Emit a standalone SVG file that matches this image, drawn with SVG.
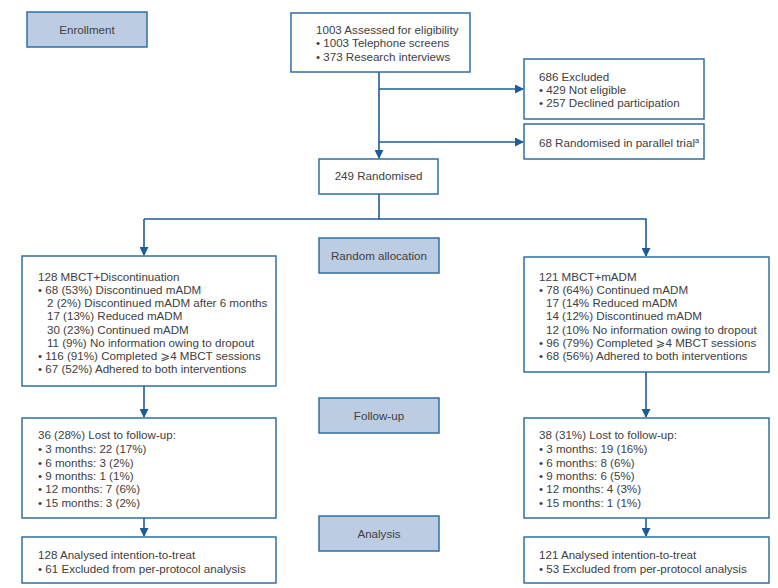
<svg xmlns="http://www.w3.org/2000/svg" width="778" height="588" viewBox="0 0 778 588">
<style>
.box{fill:#ffffff;stroke:#2f6fa3;stroke-width:1.5}
.lbl{fill:#bccde3;stroke:#2f6fa3;stroke-width:1.5}
.t{font-family:"Liberation Sans","DejaVu Sans",sans-serif;font-size:11.6px;fill:#404040}
.c{text-anchor:middle}
.ln{fill:none;stroke:#1d5d97;stroke-width:1.6}
</style>
<defs>
<marker id="ah" markerWidth="9" markerHeight="9" refX="8" refY="4.5" orient="auto" markerUnits="userSpaceOnUse">
<path d="M0,0 L9,4.5 L0,9 Z" fill="#1d5d97"/>
</marker>
</defs>
<rect width="778" height="588" fill="#ffffff"/>
<g id="connectors">
<line class="ln" x1="379" y1="72" x2="379" y2="158" marker-end="url(#ah)"/>
<line class="ln" x1="379" y1="89" x2="523" y2="89" marker-end="url(#ah)"/>
<line class="ln" x1="379" y1="142" x2="523" y2="142" marker-end="url(#ah)"/>
<polyline class="ln" points="379,194 379,219 144,219"/>
<polyline class="ln" points="144,219 144,255" marker-end="url(#ah)"/>
<polyline class="ln" points="379,219 646,219 646,256" marker-end="url(#ah)"/>
<line class="ln" x1="144" y1="386" x2="144" y2="417" marker-end="url(#ah)"/>
<line class="ln" x1="646" y1="372" x2="646" y2="417" marker-end="url(#ah)"/>
<line class="ln" x1="144" y1="518" x2="144" y2="536" marker-end="url(#ah)"/>
<line class="ln" x1="646" y1="518" x2="646" y2="536" marker-end="url(#ah)"/>
</g>
<g id="enrollment">
<rect class="lbl" x="27" y="12" width="120" height="35"/>
<text class="t c" x="87" y="34">Enrollment</text>
</g>
<g id="assessed">
<rect class="box" x="291" y="13" width="179" height="59"/>
<text class="t" x="316" y="34">1003 Assessed for eligibility</text>
<text class="t" x="316" y="47">• 1003 Telephone screens</text>
<text class="t" x="316" y="61">• 373 Research interviews</text>
</g>
<g id="excluded">
<rect class="box" x="524" y="59" width="180" height="60"/>
<text class="t" x="539" y="81">686 Excluded</text>
<text class="t" x="539" y="94">• 429 Not eligible</text>
<text class="t" x="539" y="107">• 257 Declined participation</text>
</g>
<g id="parallel">
<rect class="box" x="524" y="124" width="180" height="35"/>
<text class="t" x="539" y="147">68 Randomised in parallel trial<tspan font-size="7.5" dy="-4">a</tspan></text>
</g>
<g id="randomised">
<rect class="box" x="319" y="159" width="119" height="35"/>
<text class="t c" x="378.5" y="180">249 Randomised</text>
</g>
<g id="random-allocation">
<rect class="lbl" x="319" y="238" width="120" height="35"/>
<text class="t c" x="379" y="260">Random allocation</text>
</g>
<g id="left-alloc">
<rect class="box" x="22" y="256" width="254" height="130"/>
<text class="t" x="38" y="281">128 MBCT+Discontinuation</text>
<text class="t" x="38" y="294">• 68 (53%) Discontinued mADM</text>
<text class="t" x="47" y="307">2 (2%) Discontinued mADM after 6 months</text>
<text class="t" x="47" y="320">17 (13%) Reduced mADM</text>
<text class="t" x="47" y="334">30 (23%) Continued mADM</text>
<text class="t" x="47" y="347">11 (9%) No information owing to dropout</text>
<text class="t" x="38" y="360">• 116 (91%) Completed ⩾4 MBCT sessions</text>
<text class="t" x="38" y="373">• 67 (52%) Adhered to both interventions</text>
</g>
<g id="right-alloc">
<rect class="box" x="524" y="257" width="245" height="115"/>
<text class="t" x="539" y="281">121 MBCT+mADM</text>
<text class="t" x="539" y="294">• 78 (64%) Continued mADM</text>
<text class="t" x="546" y="307">17 (14% Reduced mADM</text>
<text class="t" x="546" y="320">14 (12%) Discontinued mADM</text>
<text class="t" x="546" y="334">12 (10% No information owing to dropout</text>
<text class="t" x="539" y="347">• 96 (79%) Completed ⩾4 MBCT sessions</text>
<text class="t" x="539" y="360">• 68 (56%) Adhered to both interventions</text>
</g>
<g id="follow-up">
<rect class="lbl" x="319" y="398" width="120" height="35"/>
<text class="t c" x="379" y="420">Follow-up</text>
</g>
<g id="left-follow">
<rect class="box" x="22" y="418" width="254" height="100"/>
<text class="t" x="38" y="439">36 (28%) Lost to follow-up:</text>
<text class="t" x="38" y="453">• 3 months: 22 (17%)</text>
<text class="t" x="38" y="467">• 6 months: 3 (2%)</text>
<text class="t" x="38" y="480">• 9 months: 1 (1%)</text>
<text class="t" x="38" y="493">• 12 months: 7 (6%)</text>
<text class="t" x="38" y="507">• 15 months: 3 (2%)</text>
</g>
<g id="right-follow">
<rect class="box" x="524" y="418" width="245" height="100"/>
<text class="t" x="539" y="439">38 (31%) Lost to follow-up:</text>
<text class="t" x="539" y="453">• 3 months: 19 (16%)</text>
<text class="t" x="539" y="467">• 6 months: 8 (6%)</text>
<text class="t" x="539" y="480">• 9 months: 6 (5%)</text>
<text class="t" x="539" y="493">• 12 months: 4 (3%)</text>
<text class="t" x="539" y="507">• 15 months: 1 (1%)</text>
</g>
<g id="analysis">
<rect class="lbl" x="319" y="516" width="120" height="35"/>
<text class="t c" x="379" y="538">Analysis</text>
</g>
<g id="left-analysis">
<rect class="box" x="22" y="537" width="254" height="46"/>
<text class="t" x="38" y="559">128 Analysed intention-to-treat</text>
<text class="t" x="38" y="573">• 61 Excluded from per-protocol analysis</text>
</g>
<g id="right-analysis">
<rect class="box" x="524" y="537" width="245" height="46"/>
<text class="t" x="539" y="559">121 Analysed intention-to-treat</text>
<text class="t" x="539" y="573">• 53 Excluded from per-protocol analysis</text>
</g>
</svg>
